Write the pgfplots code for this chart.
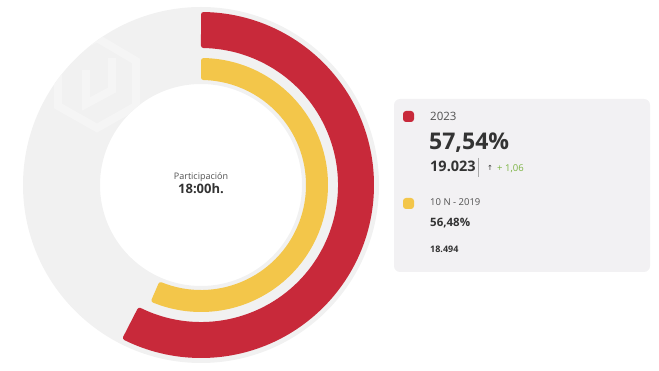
\documentclass[border=0pt]{standalone}
\usepackage{pgfplots}
\pgfplotsset{compat=1.18}
\usepackage{pgfplotstable}
\usepackage{fontspec}
\setmainfont{Open Sans}
\newfontfamily\symfont{DejaVu Sans}
\definecolor{redc}{RGB}{200,41,58}
\definecolor{yelc}{RGB}{243,198,74}
\definecolor{ringc}{RGB}{241,241,241}
\definecolor{wmc}{RGB}{245,245,245}
\definecolor{boxc}{RGB}{242,241,243}
\definecolor{darkc}{RGB}{51,51,51}
\definecolor{midc}{RGB}{80,80,80}
\definecolor{greenc}{RGB}{124,180,66}
\definecolor{sepc}{RGB}{170,170,170}

% value = turnout %, rin/rout = ring radii (pt)
\pgfplotstableread{
label value rin rout color
2023  57.54 137 173 redc
2019  56.48 105 127 yelc
}\turnout

\begin{document}
\begin{tikzpicture}
\useasboundingbox (0,0) rectangle (659pt,371pt);
\begin{axis}[
  scale only axis, width=659pt, height=371pt,
  xmin=0, xmax=659, ymin=0, ymax=371, y dir=reverse,
  hide axis, clip=false]
  \coordinate (c) at (axis cs:201,185);
  % background ring
  \fill[ringc, even odd rule] (c) circle[radius=178pt] (c) circle[radius=101pt];
  % faint watermark logo inside the ring
  \begin{scope}[even odd rule]
    \clip (c) circle[radius=178pt] (c) circle[radius=101pt];
    \draw[wmc, line width=8pt, line join=miter]
      (axis cs:80,47) -- (axis cs:97,38) -- (axis cs:136,61) -- (axis cs:136,106)
      -- (axis cs:97,128) -- (axis cs:58,106) -- (axis cs:58,62);
    \draw[wmc, line width=8pt, line join=miter]
      (axis cs:112,58) -- (axis cs:112,90) -- (axis cs:86,104) -- (axis cs:86,70);
  \end{scope}
  % data arcs
  \pgfplotsforeachungrouped \i in {0,1}{%
    \pgfplotstablegetelem{\i}{value}\of\turnout \let\v\pgfplotsretval
    \pgfplotstablegetelem{\i}{rin}\of\turnout \let\ri\pgfplotsretval
    \pgfplotstablegetelem{\i}{rout}\of\turnout \let\ro\pgfplotsretval
    \pgfplotstablegetelem{\i}{color}\of\turnout \let\cc\pgfplotsretval
    \pgfmathsetmacro\ea{90-3.6*\v}
    \pgfmathsetmacro\rib{\ri+2.5}
    \pgfmathsetmacro\rob{\ro-2.5}
    \pgfmathsetmacro\sa{90-2.5/\rob*57.2958}
    \pgfmathsetmacro\eao{\ea+2.5/\rob*57.2958}
    \pgfmathsetmacro\sai{90-2.5/\rib*57.2958}
    \pgfmathsetmacro\eai{\ea+2.5/\rib*57.2958}
    \edef\temp{\noexpand\filldraw[fill=\cc, draw=\cc, line width=5pt, line join=round]
      ([shift={(\sa:\rob pt)}]c) arc[start angle=\sa, end angle=\eao, radius=\rob pt]
      -- ([shift={(\eai:\rib pt)}]c) arc[start angle=\eai, end angle=\sai, radius=\rib pt] -- cycle;}
    \temp
  }
  % centre label
  \node[anchor=base, text=midc, font=\fontsize{9}{10}\selectfont, inner sep=0pt] at (axis cs:201,179.5) {Participación};
  \node[anchor=base, text=darkc, font=\fontsize{13}{15}\selectfont\bfseries, inner sep=0pt] at (axis cs:201,193.5) {18:00h.};
  % legend box
  \fill[boxc, rounded corners=6pt] (axis cs:394,99) rectangle (axis cs:650,272);
  \fill[redc, rounded corners=3pt] (axis cs:403,111) rectangle (axis cs:414,122);
  \fill[yelc, rounded corners=3pt] (axis cs:403,198) rectangle (axis cs:414,209);
  \node[anchor=base west, inner sep=0pt, text=midc, font=\fontsize{11.5}{13}\selectfont] at (axis cs:430,121) {2023};
  \node[anchor=base west, inner sep=0pt, text=darkc, font=\fontsize{23}{26}\selectfont\bfseries] at (axis cs:429,150) {57,54\%};
  \node[anchor=base west, inner sep=0pt, text=darkc, font=\fontsize{14.5}{16}\selectfont\bfseries] at (axis cs:430,172) {19.023};
  \draw[sepc, line width=0.8pt] (axis cs:478,158) -- (axis cs:478,177);
  \node[anchor=base west, inner sep=0pt, text=darkc, font=\fontsize{7}{8}\selectfont\symfont] at (axis cs:487,171) {↑};
  \node[anchor=base west, inner sep=0pt, text=greenc, font=\fontsize{9.5}{11}\selectfont] at (axis cs:497,171.5) {+ 1,06};
  \node[anchor=base west, inner sep=0pt, text=midc, font=\fontsize{9.5}{11}\selectfont] at (axis cs:430,206) {10 N - 2019};
  \node[anchor=base west, inner sep=0pt, text=darkc, font=\fontsize{11.5}{13}\selectfont\bfseries] at (axis cs:430,226.5) {56,48\%};
  \node[anchor=base west, inner sep=0pt, text=darkc, font=\fontsize{9}{10}\selectfont\bfseries] at (axis cs:430,252.5) {18.494};
\end{axis}
\end{tikzpicture}
\end{document}
